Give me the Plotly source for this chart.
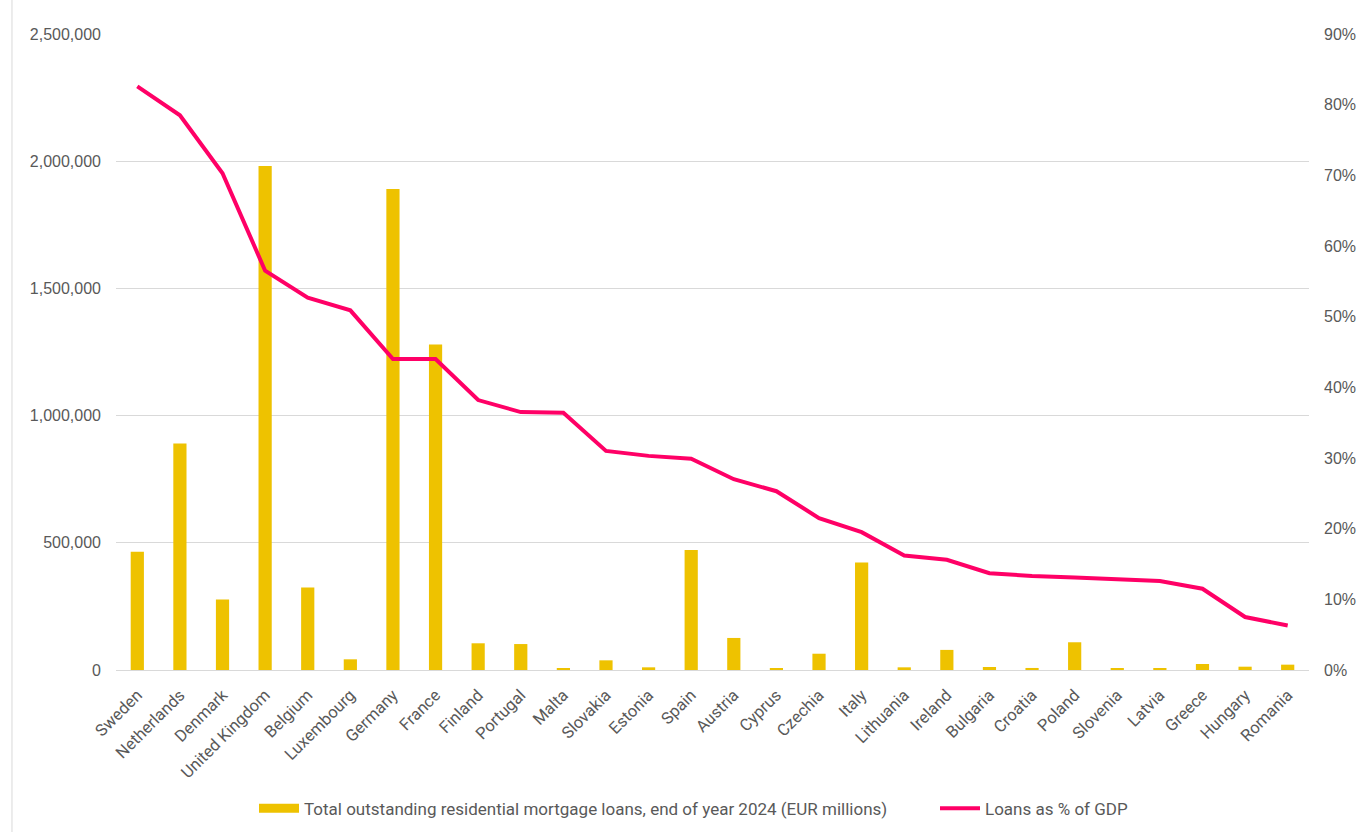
import plotly.graph_objects as go

countries = [
    "Sweden", "Netherlands", "Denmark", "United Kingdom", "Belgium", "Luxembourg",
    "Germany", "France", "Finland", "Portugal", "Malta", "Slovakia", "Estonia",
    "Spain", "Austria", "Cyprus", "Czechia", "Italy", "Lithuania", "Ireland",
    "Bulgaria", "Croatia", "Poland", "Slovenia", "Latvia", "Greece", "Hungary",
    "Romania",
]

# Outstanding residential mortgage loans, end of 2024 (EUR millions)
loans_eur_m = [
    465000, 890000, 277000, 1981000, 324000, 42000,
    1891000, 1279000, 105000, 102000, 5000, 38000, 10500,
    472000, 126000, 5000, 64000, 423000, 10500, 79000,
    11800, 8000, 109000, 6500, 4000, 23500, 13000,
    21000,
]

# Loans as a share of GDP
loans_pct_gdp = [
    0.826, 0.785, 0.703, 0.565, 0.527, 0.509,
    0.440, 0.440, 0.382, 0.365, 0.364, 0.310, 0.303,
    0.299, 0.270, 0.253, 0.215, 0.195, 0.162, 0.156,
    0.137, 0.133, 0.131, 0.129, 0.126, 0.115, 0.075,
    0.063,
]

left_ticks = [0, 500000, 1000000, 1500000, 2000000, 2500000]
right_ticks = [0, 0.1, 0.2, 0.3, 0.4, 0.5, 0.6, 0.7, 0.8, 0.9]

BAR_NAME = "Total outstanding residential mortgage loans, end of year 2024 (EUR millions)"
LINE_NAME = "Loans as % of GDP"

BAR_COLOR = "#EEC200"
LINE_COLOR = "#FF0066"
TEXT_COLOR = "#595959"
GRID_COLOR = "#D9D9D9"

fig = go.Figure()

fig.add_trace(go.Bar(
    x=countries,
    y=loans_eur_m,
    name=BAR_NAME,
    legendgroup="loans",
    showlegend=False,
    marker=dict(color=BAR_COLOR, line=dict(width=0)),
    yaxis="y",
))

# Legend key for the bars: a wide flat swatch
fig.add_trace(go.Scatter(
    x=[None],
    y=[None],
    name=BAR_NAME,
    legendgroup="loans",
    legend="legend",
    mode="lines",
    line=dict(color=BAR_COLOR, width=9),
    yaxis="y",
))

fig.add_trace(go.Scatter(
    x=countries,
    y=loans_pct_gdp,
    name=LINE_NAME,
    legend="legend2",
    mode="lines",
    line=dict(color=LINE_COLOR, width=4),
    yaxis="y2",
))

legend_common = dict(
    orientation="h",
    xref="container",
    yref="container",
    y=0.028,
    yanchor="middle",
    xanchor="left",
    font=dict(family="Roboto, sans-serif", size=17, color=TEXT_COLOR),
    itemwidth=40,
    bgcolor="rgba(0,0,0,0)",
)

fig.update_layout(
    width=1362,
    height=832,
    margin=dict(l=116, r=53, t=34, b=162),
    paper_bgcolor="white",
    plot_bgcolor="white",
    bargap=0.69,
    font=dict(family="Liberation Sans, Arial, sans-serif", color=TEXT_COLOR, size=16),
    xaxis=dict(
        tickangle=-45,
        tickfont=dict(family="Roboto, sans-serif", size=16.5, color=TEXT_COLOR),
        showline=True,
        linecolor=GRID_COLOR,
        linewidth=1,
        showgrid=False,
        ticks="",
        ticklabelstandoff=8,
        automargin=False,
    ),
    yaxis=dict(
        range=[0, 2500000],
        tickvals=left_ticks,
        tickformat=",",
        showgrid=True,
        gridcolor=GRID_COLOR,
        gridwidth=1,
        zeroline=False,
        ticks="",
        ticklabelstandoff=14,
        automargin=False,
        tickfont=dict(size=16, color=TEXT_COLOR),
    ),
    yaxis2=dict(
        range=[0, 0.9],
        tickvals=right_ticks,
        tickformat=".0%",
        overlaying="y",
        side="right",
        showgrid=False,
        zeroline=False,
        ticks="",
        ticklabelstandoff=14,
        automargin=False,
        tickfont=dict(size=16, color=TEXT_COLOR),
    ),
    legend=dict(legend_common, x=254 / 1362),
    legend2=dict(legend_common, x=935 / 1362),
    showlegend=True,
)

# Thin frame edge on the left of the chart area
fig.add_shape(
    type="line",
    xref="paper", yref="paper",
    x0=-0.0872, x1=-0.0872, y0=-0.2547, y1=1.0535,
    line=dict(color=GRID_COLOR, width=1),
)

fig.write_html("out.html")
